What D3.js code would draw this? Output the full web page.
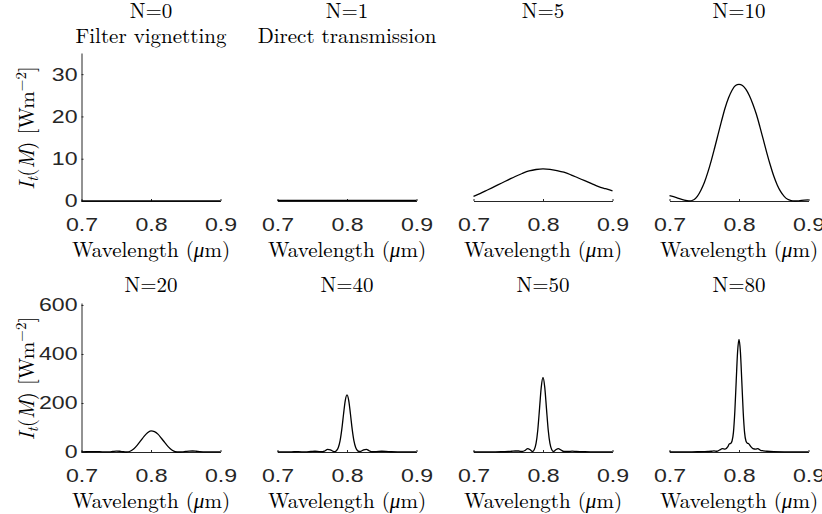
<!DOCTYPE html>
<html lang="en">
<head>
<meta charset="UTF-8">
<title>Transmitted intensity vs wavelength</title>
<script src="https://d3js.org/d3.v7.min.js"></script>
<style>
  body { margin: 0; background: #fff; }
</style>
</head>
<body>
<script>
var w = 822;
var h = 514;

var titles = ["N=0", "N=1", "N=5", "N=10", "N=20", "N=40", "N=50", "N=80"];
var subtitles = ["Filter vignetting", "Direct transmission", "", "", "", "", "", ""];
var xTicks = [0.7, 0.8, 0.9];
var yTicksTop = [0, 10, 20, 30];
var yTicksBottom = [0, 200, 400, 600];

// wavelength (um) / intensity (W m^-2)
var wl0 = [0.70, 0.80, 0.90];
var int0 = [0, 0, 0];

var wl1 = [0.70, 0.80, 0.90];
var int1 = [0.12, 0.12, 0.12];

var wl5 = [0.70, 0.71, 0.72, 0.73, 0.74, 0.75, 0.76, 0.77, 0.78, 0.79, 0.80,
           0.81, 0.82, 0.83, 0.84, 0.85, 0.86, 0.87, 0.88, 0.89, 0.90];
var int5 = [1.1, 1.8, 2.6, 3.4, 4.2, 5.0, 5.8, 6.5, 7.1, 7.45, 7.6,
            7.5, 7.2, 6.8, 6.2, 5.5, 4.8, 4.1, 3.4, 2.9, 2.4];

var wl10 = [0.700, 0.710, 0.720, 0.728, 0.735, 0.740, 0.745, 0.750, 0.755, 0.760,
            0.765, 0.770, 0.775, 0.780, 0.785, 0.790, 0.795, 0.800, 0.805, 0.810,
            0.815, 0.820, 0.825, 0.830, 0.835, 0.840, 0.845, 0.850, 0.855, 0.860,
            0.865, 0.870, 0.875, 0.880, 0.885, 0.890, 0.900];
var int10 = [1.25, 0.8, 0.25, 0.0, 0.3, 1.1, 2.5, 4.3, 6.7, 9.5,
             12.6, 15.8, 19.0, 22.0, 24.4, 26.2, 27.3, 27.6, 27.3, 26.4,
             24.9, 22.9, 20.5, 17.6, 14.5, 11.4, 8.5, 5.9, 3.8, 2.2,
             1.1, 0.4, 0.1, 0.0, 0.05, 0.15, 0.25];

var wl20 = [0.700, 0.710, 0.720, 0.730, 0.740, 0.745, 0.750, 0.755, 0.760, 0.765,
            0.770, 0.775, 0.780, 0.785, 0.790, 0.795, 0.800, 0.805, 0.810, 0.815,
            0.820, 0.825, 0.830, 0.835, 0.840, 0.845, 0.850, 0.855, 0.860, 0.865,
            0.870, 0.880, 0.890, 0.900];
var int20 = [0.5, 1.2, 1.5, 0.8, 0.5, 2.0, 3.5, 3.0, 1.0, 0.0,
             3.0, 12, 27, 45, 64, 79, 86, 83, 73, 56,
             38, 21, 8, 1, 0, 0.8, 2.5, 3.8, 4.0, 3.0,
             1.5, 0.3, 0.5, 0.3];

var wl40 = [0.700, 0.710, 0.720, 0.730, 0.740, 0.748, 0.754, 0.760, 0.765, 0.768,
            0.772, 0.776, 0.780, 0.7825, 0.785, 0.7875, 0.790, 0.7925, 0.795, 0.7975,
            0.800, 0.8025, 0.805, 0.8075, 0.810, 0.8125, 0.815, 0.8175, 0.820, 0.824,
            0.828, 0.832, 0.836, 0.842, 0.850, 0.856, 0.864, 0.880, 0.900];
var int40 = [0.3, 0.5, 0.8, 1.2, 0.6, 2, 3, 1.5, 1, 4,
             11, 9, 3, 1.5, 6, 18, 45, 92, 154, 210,
             233, 210, 154, 92, 45, 18, 6, 2, 3, 9,
             11, 5, 1, 1.5, 3, 2.5, 1, 0.6, 0.3];

var wl50 = [0.700, 0.720, 0.740, 0.750, 0.755, 0.760, 0.765, 0.770, 0.774, 0.778,
            0.782, 0.785, 0.7875, 0.790, 0.7925, 0.795, 0.7975, 0.800, 0.8025, 0.805,
            0.8075, 0.810, 0.8125, 0.815, 0.818, 0.822, 0.826, 0.830, 0.836, 0.842,
            0.848, 0.860, 0.880, 0.900];
var int50 = [0.3, 0.6, 1, 2, 3, 4, 4, 2, 6, 14,
             8, 2, 10, 35, 90, 177, 265, 304, 265, 177,
             90, 35, 10, 2, 8, 14, 8, 2, 2, 3.5,
             2, 1, 0.6, 0.3];

var wl80 = [0.700, 0.720, 0.740, 0.750, 0.755, 0.760, 0.764, 0.768, 0.772, 0.776,
            0.780, 0.784, 0.786, 0.788, 0.790, 0.792, 0.794, 0.796, 0.798, 0.800,
            0.802, 0.804, 0.806, 0.808, 0.810, 0.812, 0.814, 0.817, 0.820, 0.824,
            0.827, 0.831, 0.835, 0.840, 0.845, 0.850, 0.870, 0.900];
var int80 = [0.3, 0.5, 1, 1.5, 2, 3, 5, 3, 8, 14,
             12, 22, 33, 35, 45, 80, 165, 291, 410, 459,
             410, 291, 165, 80, 45, 36, 34, 22, 14, 12,
             14, 7, 5, 3, 2, 1.5, 0.8, 0.3];

var wls = [wl0, wl1, wl5, wl10, wl20, wl40, wl50, wl80];
var ints = [int0, int1, int5, int10, int20, int40, int50, int80];

// layout of the 2 x 4 grid
var plotW = 139;
var colStep = 196;
var firstLeft = 81.5;
var rows = [
    { top: 53, bottom: 201, ymax: 35, ticks: yTicksTop },
    { top: 303, bottom: 452, ymax: 608, ticks: yTicksBottom }
];
var axisColor = "#262626";
var serif = "'Latin Modern Roman', 'Liberation Serif', serif";
var serifSize = "21px";

var svg = d3.select("body")
    .append("svg")
    .attr("width", w)
    .attr("height", h);

function serifText(parent) {
    return parent.append("text")
        .attr("font-family", serif)
        .attr("font-size", serifSize)
        .attr("fill", "#000")
        .attr("text-anchor", "middle");
}

titles.forEach(function(title, i) {
    var r = Math.floor(i / 4);
    var c = i % 4;
    var row = rows[r];
    var left = firstLeft + c * colStep;

    var xScale = d3.scaleLinear()
        .domain([0.7, 0.9])
        .range([left, left + plotW]);

    var yScale = d3.scaleLinear()
        .domain([0, row.ymax])
        .range([row.bottom, row.top]);

    var g = svg.append("g");

    // x axis
    var xAxis = g.append("g")
        .attr("transform", "translate(0," + row.bottom + ")")
        .call(d3.axisBottom(xScale)
            .tickValues(xTicks)
            .tickSize(-2)
            .tickSizeOuter(0)
            .tickPadding(17)
            .tickFormat(d3.format(".1f")));
    styleAxis(xAxis);

    // y axis only on first column
    if (c === 0) {
        var yAxis = g.append("g")
            .attr("transform", "translate(" + left + ",0)")
            .call(d3.axisLeft(yScale)
                .tickValues(row.ticks)
                .tickSize(-2)
                .tickSizeOuter(0)
                .tickPadding(4));
        styleAxis(yAxis);
        yAxis.selectAll(".tick text").attr("x", -3.2);

        var yl = serifText(g)
            .attr("transform", "translate(34," + ((row.top + row.bottom) / 2 + 1) + ") rotate(-90)");
        yl.append("tspan").attr("font-style", "italic").text("I");
        yl.append("tspan").attr("font-style", "italic").attr("font-size", "15px").attr("dy", 4).text("t");
        yl.append("tspan").attr("dy", -4).text("(");
        yl.append("tspan").attr("font-style", "italic").text("M");
        yl.append("tspan").text(") [Wm");
        yl.append("tspan").attr("font-size", "15px").attr("dy", -8).text("\u22122");
        yl.append("tspan").attr("dy", 8).text("]");
    }

    // curve
    var pts = wls[i].map(function(x, k) { return [x, ints[i][k]]; });
    var line = d3.line()
        .x(function(d) { return xScale(d[0]); })
        .y(function(d) { return yScale(d[1]); })
        .curve(d3.curveMonotoneX);

    g.append("path")
        .datum(pts)
        .attr("d", line)
        .attr("fill", "none")
        .attr("stroke", "#000")
        .attr("stroke-width", 1.3)
        .attr("stroke-linejoin", "round");

    // titles
    var cx = left + plotW / 2;
    serifText(g)
        .attr("x", cx)
        .attr("y", r === 0 ? 18 : 292)
        .text(title);
    if (subtitles[i]) {
        serifText(g)
            .attr("x", cx)
            .attr("y", 43)
            .text(subtitles[i]);
    }

    // x label
    var xl = serifText(g)
        .attr("x", cx)
        .attr("y", row.bottom + 56);
    xl.append("tspan").text("Wavelength (");
    xl.append("tspan").attr("font-style", "italic").text("\u03bc");
    xl.append("tspan").text("m)");
});

function styleAxis(sel) {
    sel.select(".domain").attr("stroke", axisColor).attr("stroke-width", 1);
    sel.selectAll(".tick line").attr("stroke", axisColor);
    sel.selectAll(".tick text")
        .attr("fill", axisColor)
        .attr("font-family", "'Liberation Sans', Arimo, 'DejaVu Sans', sans-serif")
        .attr("font-size", "18.5px")
        .attr("transform", "scale(1.25,1)");
}
</script>
</body>
</html>
